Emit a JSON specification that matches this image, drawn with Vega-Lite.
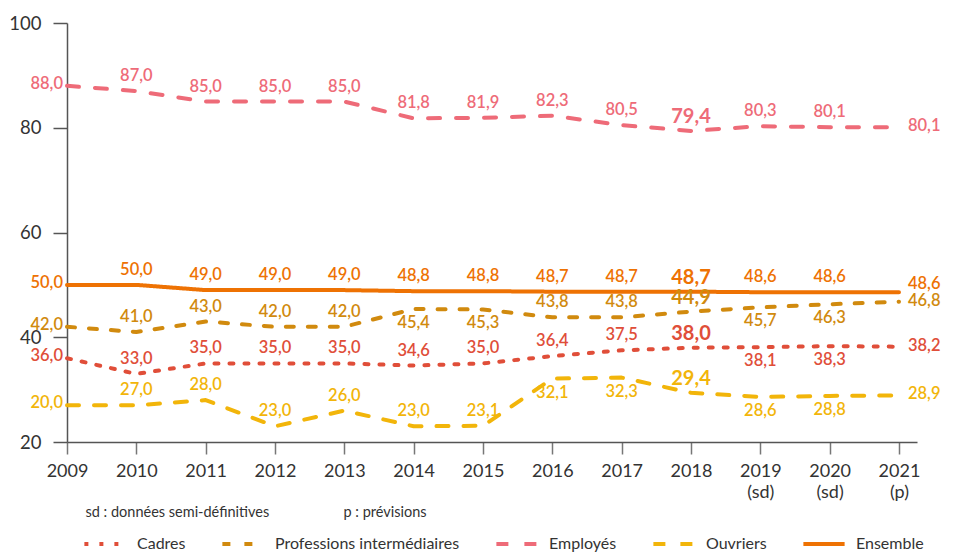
{
  "$schema": "https://vega.github.io/schema/vega-lite/v6.json",
  "width": 850,
  "height": 419,
  "autosize": {"type": "none"},
  "padding": {"left": 67, "top": 23, "right": 38, "bottom": 111},
  "background": "white",
  "config": {"font": "Lato", "view": {"stroke": null}},
  "data": {"values": [
    {"year": 2009, "series": "Employés", "value": 88.0, "label": "88,0"},
    {"year": 2010, "series": "Employés", "value": 87.0, "label": "87,0"},
    {"year": 2011, "series": "Employés", "value": 85.0, "label": "85,0"},
    {"year": 2012, "series": "Employés", "value": 85.0, "label": "85,0"},
    {"year": 2013, "series": "Employés", "value": 85.0, "label": "85,0"},
    {"year": 2014, "series": "Employés", "value": 81.8, "label": "81,8"},
    {"year": 2015, "series": "Employés", "value": 81.9, "label": "81,9"},
    {"year": 2016, "series": "Employés", "value": 82.3, "label": "82,3"},
    {"year": 2017, "series": "Employés", "value": 80.5, "label": "80,5"},
    {"year": 2018, "series": "Employés", "value": 79.4, "label": "79,4"},
    {"year": 2019, "series": "Employés", "value": 80.3, "label": "80,3"},
    {"year": 2020, "series": "Employés", "value": 80.1, "label": "80,1"},
    {"year": 2021, "series": "Employés", "value": 80.1, "label": "80,1"},
    {"year": 2009, "series": "Ensemble", "value": 50.0, "label": "50,0"},
    {"year": 2010, "series": "Ensemble", "value": 50.0, "label": "50,0"},
    {"year": 2011, "series": "Ensemble", "value": 49.0, "label": "49,0"},
    {"year": 2012, "series": "Ensemble", "value": 49.0, "label": "49,0"},
    {"year": 2013, "series": "Ensemble", "value": 49.0, "label": "49,0"},
    {"year": 2014, "series": "Ensemble", "value": 48.8, "label": "48,8"},
    {"year": 2015, "series": "Ensemble", "value": 48.8, "label": "48,8"},
    {"year": 2016, "series": "Ensemble", "value": 48.7, "label": "48,7"},
    {"year": 2017, "series": "Ensemble", "value": 48.7, "label": "48,7"},
    {"year": 2018, "series": "Ensemble", "value": 48.7, "label": "48,7"},
    {"year": 2019, "series": "Ensemble", "value": 48.6, "label": "48,6"},
    {"year": 2020, "series": "Ensemble", "value": 48.6, "label": "48,6"},
    {"year": 2021, "series": "Ensemble", "value": 48.6, "label": "48,6"},
    {"year": 2009, "series": "Professions intermédiaires", "value": 42.0, "label": "42,0"},
    {"year": 2010, "series": "Professions intermédiaires", "value": 41.0, "label": "41,0"},
    {"year": 2011, "series": "Professions intermédiaires", "value": 43.0, "label": "43,0"},
    {"year": 2012, "series": "Professions intermédiaires", "value": 42.0, "label": "42,0"},
    {"year": 2013, "series": "Professions intermédiaires", "value": 42.0, "label": "42,0"},
    {"year": 2014, "series": "Professions intermédiaires", "value": 45.4, "label": "45,4"},
    {"year": 2015, "series": "Professions intermédiaires", "value": 45.3, "label": "45,3"},
    {"year": 2016, "series": "Professions intermédiaires", "value": 43.8, "label": "43,8"},
    {"year": 2017, "series": "Professions intermédiaires", "value": 43.8, "label": "43,8"},
    {"year": 2018, "series": "Professions intermédiaires", "value": 44.9, "label": "44,9"},
    {"year": 2019, "series": "Professions intermédiaires", "value": 45.7, "label": "45,7"},
    {"year": 2020, "series": "Professions intermédiaires", "value": 46.3, "label": "46,3"},
    {"year": 2021, "series": "Professions intermédiaires", "value": 46.8, "label": "46,8"},
    {"year": 2009, "series": "Cadres", "value": 36.0, "label": "36,0"},
    {"year": 2010, "series": "Cadres", "value": 33.0, "label": "33,0"},
    {"year": 2011, "series": "Cadres", "value": 35.0, "label": "35,0"},
    {"year": 2012, "series": "Cadres", "value": 35.0, "label": "35,0"},
    {"year": 2013, "series": "Cadres", "value": 35.0, "label": "35,0"},
    {"year": 2014, "series": "Cadres", "value": 34.6, "label": "34,6"},
    {"year": 2015, "series": "Cadres", "value": 35.0, "label": "35,0"},
    {"year": 2016, "series": "Cadres", "value": 36.4, "label": "36,4"},
    {"year": 2017, "series": "Cadres", "value": 37.5, "label": "37,5"},
    {"year": 2018, "series": "Cadres", "value": 38.0, "label": "38,0"},
    {"year": 2019, "series": "Cadres", "value": 38.1, "label": "38,1"},
    {"year": 2020, "series": "Cadres", "value": 38.3, "label": "38,3"},
    {"year": 2021, "series": "Cadres", "value": 38.2, "label": "38,2"},
    {"year": 2009, "series": "Ouvriers", "value": 27.0, "label": "20,0"},
    {"year": 2010, "series": "Ouvriers", "value": 27.0, "label": "27,0"},
    {"year": 2011, "series": "Ouvriers", "value": 28.0, "label": "28,0"},
    {"year": 2012, "series": "Ouvriers", "value": 23.0, "label": "23,0"},
    {"year": 2013, "series": "Ouvriers", "value": 26.0, "label": "26,0"},
    {"year": 2014, "series": "Ouvriers", "value": 23.0, "label": "23,0"},
    {"year": 2015, "series": "Ouvriers", "value": 23.1, "label": "23,1"},
    {"year": 2016, "series": "Ouvriers", "value": 32.1, "label": "32,1"},
    {"year": 2017, "series": "Ouvriers", "value": 32.3, "label": "32,3"},
    {"year": 2018, "series": "Ouvriers", "value": 29.4, "label": "29,4"},
    {"year": 2019, "series": "Ouvriers", "value": 28.6, "label": "28,6"},
    {"year": 2020, "series": "Ouvriers", "value": 28.8, "label": "28,8"},
    {"year": 2021, "series": "Ouvriers", "value": 28.9, "label": "28,9"}
  ]},
  "encoding": {
    "x": {
      "field": "year", "type": "quantitative",
      "scale": {"domain": [2009, 2021.26], "nice": false, "zero": false},
      "axis": {
        "values": [2009, 2010, 2011, 2012, 2013, 2014, 2015, 2016, 2017, 2018, 2019, 2020, 2021],
        "format": "d",
        "labelExpr": "datum.value == 2019 || datum.value == 2020 ? [datum.label, '(sd)'] : datum.value == 2021 ? [datum.label, '(p)'] : datum.label",
        "grid": false,
        "tickSize": 12,
        "labelPadding": 8,
        "labelFontSize": 18,
        "labelLineHeight": 21,
        "labelColor": "#333333",
        "labelFlush": false,
        "labelOverlap": false,
        "labelBound": false,
        "domainColor": "#555555",
        "domainWidth": 1.5,
        "tickColor": "#777777",
        "tickWidth": 1.5,
        "title": "sd : données semi-définitives\u00a0\u00a0\u00a0\u00a0\u00a0\u00a0\u00a0\u00a0\u00a0\u00a0\u00a0\u00a0\u00a0\u00a0\u00a0\u00a0\u00a0\u00a0\u00a0\u00a0p : prévisions",
        "titleAnchor": "start",
        "titleAlign": "left",
        "titleX": 18,
        "titleY": 70,
        "titleBaseline": "middle",
        "titleFontSize": 14.5,
        "titleFontWeight": "normal",
        "titleColor": "#333333"
      }
    },
    "y": {
      "field": "value", "type": "quantitative",
      "scale": {"domain": [20, 100], "nice": false, "zero": false},
      "axis": {
        "values": [20, 40, 60, 80, 100],
        "grid": false,
        "tickSize": 14,
        "labelPadding": 12,
        "labelFontSize": 18.5,
        "labelColor": "#333333",
        "domainColor": "#555555",
        "domainWidth": 1.5,
        "tickColor": "#555555",
        "tickWidth": 1.5,
        "title": null
      }
    },
    "color": {
      "field": "series", "type": "nominal",
      "scale": {
        "domain": ["Cadres", "Professions intermédiaires", "Employés", "Ouvriers", "Ensemble"],
        "range": ["#E04E39", "#D18A0E", "#EE6B78", "#F2B50A", "#EE7203"]
      },
      "legend": null
    }
  },
  "layer": [
    {
      "mark": {"type": "line", "strokeWidth": 4, "strokeCap": "round", "strokeJoin": "round", "interpolate": "linear"},
      "encoding": {
        "color": {
          "field": "series", "type": "nominal",
          "scale": {
            "domain": ["Cadres", "Professions intermédiaires", "Employés", "Ouvriers", "Ensemble"],
            "range": ["#E04E39", "#D18A0E", "#EE6B78", "#F2B50A", "#EE7203"]
          },
          "legend": {
            "title": null,
            "orient": "none",
            "legendX": 15,
            "legendY": 498,
            "direction": "horizontal",
            "symbolType": "stroke",
            "symbolSize": 1700,
            "symbolStrokeWidth": 4,
            "labelFontSize": 16,
            "labelColor": "#333333",
            "labelOffset": 9,
            "labelLimit": 300,
            "columnPadding": 28
          }
        },
        "strokeDash": {
          "field": "series", "type": "nominal",
          "scale": {
            "domain": ["Cadres", "Professions intermédiaires", "Employés", "Ouvriers", "Ensemble"],
            "range": [[4, 11], [8, 14], [12, 16], [12, 15], [1, 0]]
          },
          "legend": {
            "title": null,
            "orient": "none",
            "legendX": 15,
            "legendY": 498,
            "direction": "horizontal",
            "symbolType": "stroke",
            "symbolSize": 1700,
            "symbolStrokeWidth": 4,
            "labelFontSize": 16,
            "labelColor": "#333333",
            "labelOffset": 9,
            "labelLimit": 300,
            "columnPadding": 28
          }
        }
      }
    },
    {
      "transform": [{"filter": "datum.year > 2009 && datum.year < 2021 && datum.year != 2018 && !((datum.series == 'Professions intermédiaires' && (datum.year == 2014 || datum.year == 2015 || datum.year == 2019 || datum.year == 2020)) || (datum.series == 'Cadres' && (datum.year == 2019 || datum.year == 2020)) || (datum.series == 'Ouvriers' && (datum.year == 2016 || datum.year == 2017 || datum.year == 2019 || datum.year == 2020)))"}],
      "mark": {"type": "text", "fontSize": 16.5, "fontWeight": 600, "dy": -15, "baseline": "middle", "align": "center"},
      "encoding": {"text": {"field": "label"}}
    },
    {
      "transform": [{"filter": "(datum.series == 'Professions intermédiaires' && (datum.year == 2014 || datum.year == 2015 || datum.year == 2019 || datum.year == 2020)) || (datum.series == 'Cadres' && (datum.year == 2019 || datum.year == 2020)) || (datum.series == 'Ouvriers' && (datum.year == 2016 || datum.year == 2017 || datum.year == 2019 || datum.year == 2020))"}],
      "mark": {"type": "text", "fontSize": 16.5, "fontWeight": 600, "dy": 14, "baseline": "middle", "align": "center"},
      "encoding": {"text": {"field": "label"}}
    },
    {
      "transform": [{"filter": "datum.year == 2018"}],
      "mark": {"type": "text", "fontSize": 20, "fontWeight": "bold", "dy": -14, "baseline": "middle", "align": "center"},
      "encoding": {"text": {"field": "label"}}
    },
    {
      "transform": [{"filter": "datum.year == 2009"}],
      "mark": {"type": "text", "fontSize": 16.5, "fontWeight": 600, "dx": -4, "dy": -2, "baseline": "middle", "align": "right"},
      "encoding": {"text": {"field": "label"}}
    },
    {
      "transform": [{"filter": "datum.year == 2021 && datum.series != 'Ensemble'"}],
      "mark": {"type": "text", "fontSize": 16.5, "fontWeight": 600, "dx": 9, "dy": -1, "baseline": "middle", "align": "left"},
      "encoding": {"text": {"field": "label"}}
    },
    {
      "transform": [{"filter": "datum.year == 2021 && datum.series == 'Ensemble'"}],
      "mark": {"type": "text", "fontSize": 16.5, "fontWeight": 600, "dx": 9, "dy": -8, "baseline": "middle", "align": "left"},
      "encoding": {"text": {"field": "label"}}
    }
  ]
}
